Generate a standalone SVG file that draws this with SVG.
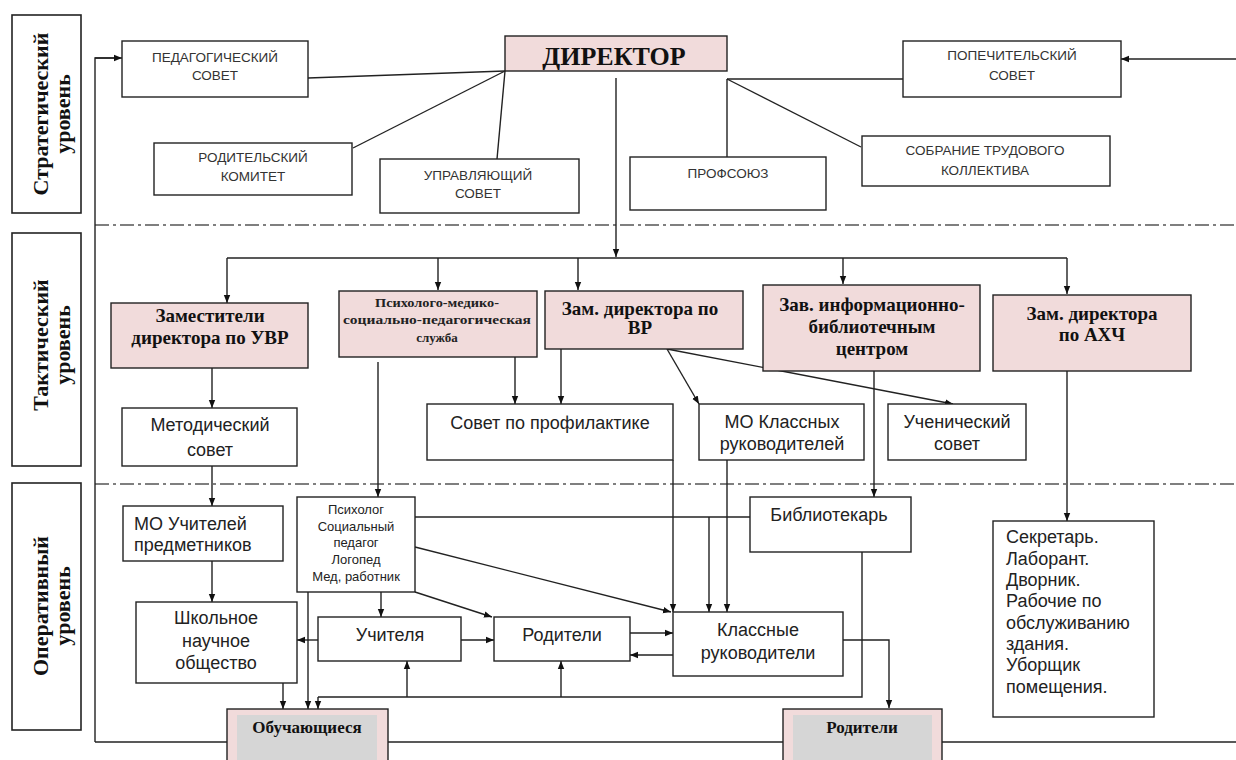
<svg xmlns="http://www.w3.org/2000/svg" width="1236" height="760" viewBox="0 0 1236 760">
<defs>
<marker id="ah" viewBox="0 0 10 10" refX="10" refY="5" markerWidth="8" markerHeight="8" orient="auto" markerUnits="userSpaceOnUse"><path d="M0,1 L10,5 L0,9 z" fill="#111"/></marker>
<style>
.box{fill:#fff;stroke:#222;stroke-width:1.4}
.pink{fill:#f1dbdb;stroke:#222;stroke-width:1.4}
.side{fill:#fff;stroke:#222;stroke-width:1.6}
.cap{font-family:"Liberation Sans",Arial,sans-serif;font-size:13.5px;fill:#333;text-anchor:middle}
.ts{font-family:"Liberation Serif","Times New Roman",serif;font-weight:bold;font-size:19px;fill:#111;text-anchor:middle}
.ps{font-family:"Liberation Serif","Times New Roman",serif;font-weight:bold;font-size:13px;fill:#222;text-anchor:middle}
.op{font-family:"Liberation Sans",Arial,sans-serif;font-size:18px;fill:#222;text-anchor:middle}
.sm{font-family:"Liberation Sans",Arial,sans-serif;font-size:13px;fill:#222;text-anchor:middle}
.sd{font-family:"Liberation Serif","Times New Roman",serif;font-weight:bold;font-size:22px;fill:#111;text-anchor:middle}
.ln{fill:none;stroke:#222;stroke-width:1.4}
.ar{fill:none;stroke:#222;stroke-width:1.4;marker-end:url(#ah)}
.dd{fill:none;stroke:#555;stroke-width:1.4;stroke-dasharray:14 4 3 4}
.st{text-anchor:start}
</style>
</defs>
<rect width="1236" height="760" fill="#fff"/>

<g id="levels">
<g id="level-strategic"><rect class="side" x="12" y="15" width="69" height="198"/>
<text class="sd" transform="translate(48,114) rotate(-90)">Стратегический</text>
<text class="sd" transform="translate(70,114) rotate(-90)">уровень</text></g>
<g id="level-tactical"><rect class="side" x="12" y="233" width="69" height="233"/>
<text class="sd" transform="translate(48,345) rotate(-90)">Тактический</text>
<text class="sd" transform="translate(70,345) rotate(-90)">уровень</text></g>
<g id="level-operational"><rect class="side" x="12" y="483" width="69" height="247"/>
<text class="sd" transform="translate(48,606) rotate(-90)">Оперативный</text>
<text class="sd" transform="translate(70,606) rotate(-90)">уровень</text></g>
<line class="dd" x1="95" y1="225" x2="1236" y2="225"/>
<line class="dd" x1="95" y1="484" x2="1236" y2="484"/>
</g>

<g id="connectors">
<polyline class="ln" points="95,742 95,58 114,58"/>
<line class="ar" x1="95" y1="58" x2="122" y2="58"/>
<line class="ar" x1="1236" y1="59" x2="1121" y2="59"/>
<line class="ln" x1="95" y1="742" x2="227" y2="742"/>
<line class="ln" x1="388" y1="742" x2="783" y2="742"/>
<line class="ln" x1="942" y1="742" x2="1236" y2="742"/>
<line class="ln" x1="308" y1="78" x2="505" y2="71"/>
<line class="ln" x1="353" y1="148" x2="505" y2="71"/>
<line class="ln" x1="497" y1="159" x2="505" y2="71"/>
<line class="ln" x1="727" y1="79" x2="903" y2="79"/>
<line class="ln" x1="727" y1="79" x2="727" y2="157"/>
<line class="ln" x1="727" y1="79" x2="861" y2="147"/>
<line class="ar" x1="616" y1="78" x2="616" y2="257"/>
<line class="ln" x1="227" y1="258" x2="1067" y2="258"/>
<line class="ar" x1="227" y1="258" x2="227" y2="303"/>
<line class="ar" x1="438" y1="258" x2="438" y2="290"/>
<line class="ar" x1="578" y1="258" x2="578" y2="290"/>
<line class="ar" x1="843" y1="258" x2="843" y2="284"/>
<line class="ar" x1="1067" y1="258" x2="1067" y2="294"/>
<line class="ar" x1="212" y1="368" x2="212" y2="408"/>
<line class="ar" x1="515" y1="357" x2="515" y2="404"/>
<line class="ar" x1="561" y1="349" x2="561" y2="404"/>
<line class="ar" x1="667" y1="349" x2="699" y2="404"/>
<line class="ar" x1="667" y1="349" x2="953" y2="404"/>
<line class="ar" x1="378" y1="362" x2="378" y2="497"/>
<line class="ar" x1="874" y1="371" x2="874" y2="497"/>
<line class="ar" x1="1067" y1="371" x2="1067" y2="521"/>
<line class="ar" x1="212" y1="466" x2="212" y2="506"/>
<line class="ar" x1="212" y1="561" x2="212" y2="602"/>
<line class="ln" x1="415" y1="517" x2="750" y2="517"/>
<line class="ar" x1="709" y1="517" x2="709" y2="612"/>
<line class="ar" x1="673" y1="460" x2="673" y2="612"/>
<line class="ar" x1="727" y1="460" x2="727" y2="612"/>
<line class="ar" x1="415" y1="547" x2="671" y2="612"/>
<line class="ar" x1="415" y1="592" x2="492" y2="617"/>
<line class="ar" x1="381" y1="592" x2="381" y2="617"/>
<line class="ar" x1="318" y1="640" x2="297" y2="640"/>
<line class="ar" x1="461" y1="640" x2="494" y2="640"/>
<line class="ar" x1="630" y1="633" x2="673" y2="633"/>
<line class="ar" x1="673" y1="655" x2="630" y2="655"/>
<polyline class="ar" points="843,640 889,640 889,708"/>
<line class="ar" x1="308" y1="592" x2="308" y2="709"/>
<line class="ar" x1="283" y1="683" x2="283" y2="709"/>
<polyline class="ln" points="862,552 862,697 318,697"/>
<line class="ar" x1="318" y1="697" x2="318" y2="709"/>
<line class="ar" x1="407" y1="697" x2="407" y2="661"/>
<line class="ar" x1="561" y1="697" x2="561" y2="661"/>
</g>

<g id="n-ped"><rect class="box" x="122" y="41" width="186" height="56"/>
<text class="cap" x="215" y="62">ПЕДАГОГИЧЕСКИЙ</text><text class="cap" x="215" y="80">СОВЕТ</text></g>
<g id="n-director"><rect class="pink" x="505" y="36" width="222" height="35"/>
<text class="ts" x="614" y="65" style="font-size:26px">ДИРЕКТОР</text></g>
<g id="n-popech"><rect class="box" x="903" y="41" width="218" height="56"/>
<text class="cap" x="1012" y="60">ПОПЕЧИТЕЛЬСКИЙ</text><text class="cap" x="1012" y="80">СОВЕТ</text></g>
<g id="n-rodkom"><rect class="box" x="154" y="143" width="198" height="52"/>
<text class="cap" x="253" y="162">РОДИТЕЛЬСКИЙ</text><text class="cap" x="253" y="181">КОМИТЕТ</text></g>
<g id="n-upr"><rect class="box" x="380" y="159" width="199" height="54"/>
<text class="cap" x="478" y="180">УПРАВЛЯЮЩИЙ</text><text class="cap" x="478" y="198">СОВЕТ</text></g>
<g id="n-prof"><rect class="box" x="630" y="157" width="196" height="53"/>
<text class="cap" x="728" y="178">ПРОФСОЮЗ</text></g>
<g id="n-sobr"><rect class="box" x="862" y="136" width="248" height="50"/>
<text class="cap" x="985" y="155">СОБРАНИЕ ТРУДОВОГО</text><text class="cap" x="985" y="175">КОЛЛЕКТИВА</text></g>

<g id="n-uvr"><rect class="pink" x="111" y="303" width="197" height="65"/>
<text class="ts" x="210" y="322">Заместители</text><text class="ts" x="210" y="344">директора по УВР</text></g>
<g id="n-pmps"><rect class="pink" x="339" y="291" width="198" height="66"/>
<text class="ps" x="437" y="307" textLength="124" lengthAdjust="spacingAndGlyphs">Психолого-медико-</text>
<text class="ps" x="437" y="324" textLength="188" lengthAdjust="spacingAndGlyphs">социально-педагогическая</text>
<text class="ps" x="437" y="342">служба</text></g>
<g id="n-vr"><rect class="pink" x="545" y="291" width="198" height="58"/>
<text class="ts" x="640" y="315">Зам. директора по</text><text class="ts" x="640" y="334">ВР</text></g>
<g id="n-zav"><rect class="pink" x="763" y="285" width="217" height="86"/>
<text class="ts" x="872" y="311">Зав. информационно-</text><text class="ts" x="872" y="333">библиотечным</text><text class="ts" x="872" y="355">центром</text></g>
<g id="n-ahch"><rect class="pink" x="993" y="295" width="198" height="76"/>
<text class="ts" x="1092" y="320">Зам. директора</text><text class="ts" x="1092" y="341">по АХЧ</text></g>

<g id="n-metod"><rect class="box" x="122" y="408" width="175" height="58"/>
<text class="op" x="210" y="431">Методический</text><text class="op" x="210" y="456">совет</text></g>
<g id="n-sovprof"><rect class="box" x="427" y="404" width="246" height="56"/>
<text class="op" x="550" y="429">Совет по профилактике</text></g>
<g id="n-mokl"><rect class="box" x="699" y="404" width="165" height="56"/>
<text class="op" x="782" y="428">МО Классных</text><text class="op" x="782" y="450">руководителей</text></g>
<g id="n-uchsov"><rect class="box" x="888" y="404" width="138" height="56"/>
<text class="op" x="957" y="428">Ученический</text><text class="op" x="957" y="450">совет</text></g>

<g id="n-mouch"><rect class="box" x="123" y="506" width="160" height="55"/>
<text class="op st" x="134" y="530">МО Учителей</text><text class="op st" x="134" y="551">предметников</text></g>
<g id="n-psych"><rect class="box" x="297" y="497" width="118" height="95"/>
<text class="sm" x="356" y="514">Психолог</text><text class="sm" x="356" y="531">Социальный</text><text class="sm" x="356" y="547">педагог</text><text class="sm" x="356" y="564">Логопед</text><text class="sm" x="356" y="581">Мед, работник</text></g>
<g id="n-bibl"><rect class="box" x="750" y="497" width="161" height="55"/>
<text class="op" x="829" y="521">Библиотекарь</text></g>
<g id="n-sekr"><rect class="box" x="993" y="521" width="161" height="196"/>
<text class="op st" x="1006" y="543">Секретарь.</text><text class="op st" x="1006" y="565">Лаборант.</text><text class="op st" x="1006" y="586">Дворник.</text><text class="op st" x="1006" y="607">Рабочие по</text><text class="op st" x="1006" y="629">обслуживанию</text><text class="op st" x="1006" y="650">здания.</text><text class="op st" x="1006" y="671">Уборщик</text><text class="op st" x="1006" y="693">помещения.</text></g>
<g id="n-shno"><rect class="box" x="136" y="602" width="161" height="81"/>
<text class="op" x="216" y="624">Школьное</text><text class="op" x="216" y="647">научное</text><text class="op" x="216" y="669">общество</text></g>
<g id="n-uchit"><rect class="box" x="318" y="617" width="143" height="44"/>
<text class="op" x="390" y="641">Учителя</text></g>
<g id="n-rod"><rect class="box" x="494" y="617" width="136" height="44"/>
<text class="op" x="562" y="641">Родители</text></g>
<g id="n-klruk"><rect class="box" x="673" y="612" width="170" height="64"/>
<text class="op" x="758" y="636">Классные</text><text class="op" x="758" y="659">руководители</text></g>

<g id="n-obuch"><rect class="pink" x="227" y="709" width="161" height="60"/><rect x="237" y="715" width="140" height="50" fill="#d6d6d6"/>
<text class="ts" x="307" y="733" style="font-size:17px">Обучающиеся</text></g>
<g id="n-rod2"><rect class="pink" x="783" y="709" width="159" height="60"/><rect x="793" y="715" width="139" height="50" fill="#d6d6d6"/>
<text class="ts" x="862" y="733" style="font-size:17px">Родители</text></g>
</svg>
